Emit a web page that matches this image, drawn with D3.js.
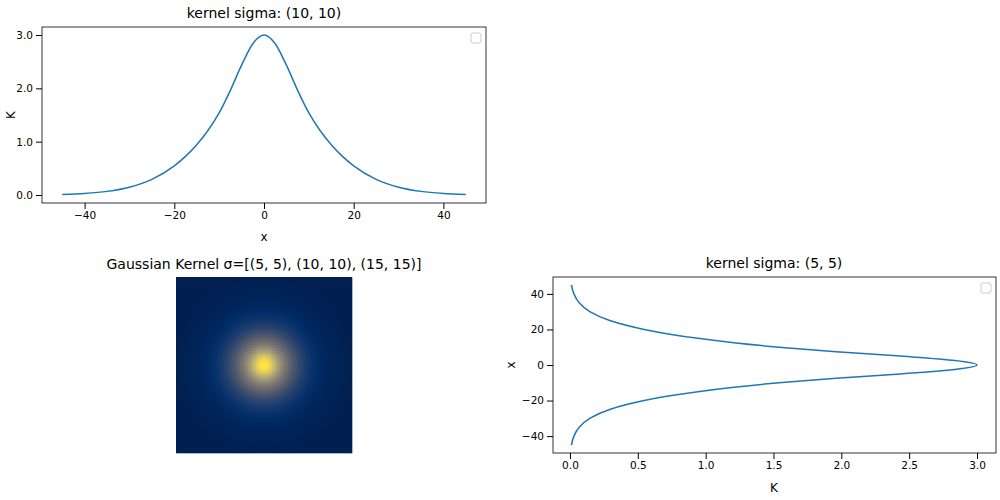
<!DOCTYPE html>
<html><head><meta charset="utf-8">
<script src="https://cdn.jsdelivr.net/npm/d3@7"></script>
<style>body{margin:0;background:#fff}text{font-family:"DejaVu Sans",sans-serif}</style>
</head><body><svg width="1000" height="500"></svg>
<script>
// profile of the kernel
var xs = [-45,-40,-35,-30,-25,-20,-17.5,-15,-12.5,-10,-7.5,-5,-2.5,0,2.5,5,7.5,10,12.5,15,17.5,20,25,30,35,40,45];
var ks = [0.011,0.029,0.068,0.146,0.293,0.547,0.724,0.943,1.209,1.54,1.962,2.435,2.837,3,2.837,2.435,1.962,1.54,1.209,0.943,0.724,0.547,0.293,0.146,0.068,0.029,0.011];
var xTicks = [-40,-20,0,20,40];
var kTicks = [0,1,2,3];
var kTicks2 = [0,0.5,1,1.5,2,2.5,3];
var pts = xs.map(function(x,i){ return {x:x, k:ks[i]}; });
var svg = d3.select("svg");
var blue = "#1f77b4";

function frame(g, w, h){
  g.append("rect").attr("width",w).attr("height",h).attr("fill","none").attr("stroke","#000").attr("stroke-width",0.8);
  g.append("rect").attr("x",w-15).attr("y",6).attr("width",10).attr("height",10).attr("rx",2)
    .attr("fill","#fff").attr("stroke","#ccc");
}
function style(a){ a.selectAll("text").attr("font-size",10.5).style("font-family","DejaVu Sans"); a.select(".domain").remove(); }

// top-left
var g1 = svg.append("g").attr("transform","translate(42,27)");
var x1 = d3.scaleLinear().domain([-49.5,49.5]).range([0,444]);
var y1 = d3.scaleLinear().domain([-0.15,3.15]).range([176,0]);
g1.append("path").datum(pts).attr("fill","none").attr("stroke",blue).attr("stroke-width",1.5)
  .attr("d", d3.line().x(function(d){return x1(d.x);}).y(function(d){return y1(d.k);}).curve(d3.curveMonotoneX));
g1.append("g").attr("transform","translate(0,176)").call(d3.axisBottom(x1).tickValues(xTicks).tickSizeOuter(0)).call(style);
g1.append("g").call(d3.axisLeft(y1).tickValues(kTicks).tickSizeOuter(0)).call(style);
frame(g1,444,176);
g1.append("text").attr("x",222).attr("y",-9).attr("text-anchor","middle").attr("font-size",14).text("kernel sigma: (10, 10)");
g1.append("text").attr("x",222).attr("y",214).attr("text-anchor","middle").attr("font-size",12).text("x");
g1.append("text").attr("transform","translate(-27,88) rotate(-90)").attr("text-anchor","middle").attr("font-size",12).text("K");

// heatmap
var g2 = svg.append("g").attr("transform","translate(176,277)");
var n = 88, size = 176;
var prof = d3.scaleLinear().domain(xs.slice(13)).range(ks.slice(13)).clamp(true);
var c = d3.scaleLinear().domain([-45,45]).range([0,size]);
var cells = [];
for (var i=0;i<n;i++) for (var j=0;j<n;j++){
  var cx = -45 + (i+0.5)*90/n, cy = -45 + (j+0.5)*90/n;
  cells.push({i:i,j:j,v:prof(Math.sqrt(cx*cx+cy*cy))});
}
g2.selectAll("rect").data(cells).enter().append("rect")
  .attr("x",function(d){return c(-45+d.i*90/n);}).attr("y",function(d){return c(-45+d.j*90/n);})
  .attr("width",size/n+0.3).attr("height",size/n+0.3)
  .attr("fill",function(d){return d3.interpolateCividis((d.v-0.011)/(3-0.011));});
g2.append("text").attr("x",88).attr("y",-8).attr("text-anchor","middle").attr("font-size",14)
  .text("Gaussian Kernel \u03C3=[(5, 5), (10, 10), (15, 15)]");

// bottom-right
var g3 = svg.append("g").attr("transform","translate(553,277)");
var x3 = d3.scaleLinear().domain([-0.125,3.14]).range([0,443]);
var y3 = d3.scaleLinear().domain([-49.5,49.5]).range([176,0]);
g3.append("path").datum(pts).attr("fill","none").attr("stroke",blue).attr("stroke-width",1.5)
  .attr("d", d3.line().x(function(d){return x3(d.k);}).y(function(d){return y3(d.x);}).curve(d3.curveMonotoneY));
g3.append("g").attr("transform","translate(0,176)").call(d3.axisBottom(x3).tickValues(kTicks2).tickFormat(d3.format(".1f")).tickSizeOuter(0)).call(style);
g3.append("g").call(d3.axisLeft(y3).tickValues(xTicks).tickSizeOuter(0)).call(style);
frame(g3,443,176);
g3.append("text").attr("x",221).attr("y",-9).attr("text-anchor","middle").attr("font-size",14).text("kernel sigma: (5, 5)");
g3.append("text").attr("x",221).attr("y",215).attr("text-anchor","middle").attr("font-size",12).text("K");
g3.append("text").attr("transform","translate(-38,88) rotate(-90)").attr("text-anchor","middle").attr("font-size",12).text("x");
</script></body></html>
